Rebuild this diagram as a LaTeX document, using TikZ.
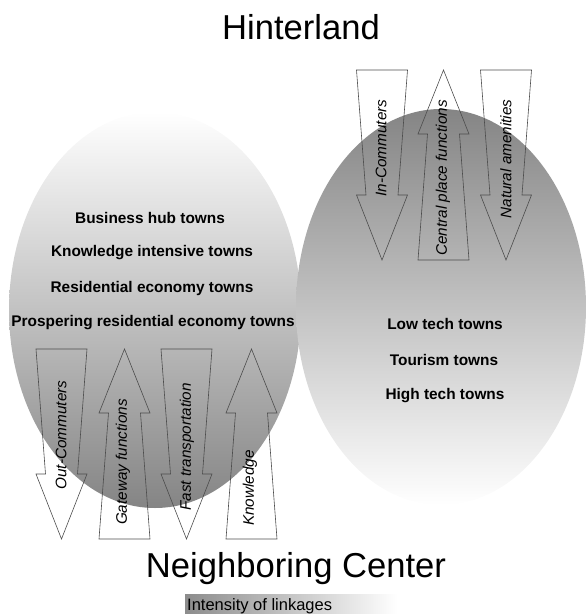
\documentclass[tikz,border=0pt]{standalone}
\usepackage{fontspec}
\setmainfont{Liberation Sans}
\begin{document}
\begin{tikzpicture}[x=1pt,y=-1pt,
  flowarrow/.style={draw=black!70, line width=0.6pt, line join=miter},
  arrowlabel/.style={rotate=90, font=\fontsize{15.3}{18}\selectfont\itshape, inner sep=0pt},
  townlabel/.style={font=\fontsize{15.4}{18}\selectfont\bfseries, inner sep=0pt},
  titlelabel/.style={font=\fontsize{34.6}{40}\selectfont, inner sep=0pt}]
\useasboundingbox (0,0) rectangle (586,615);
\newcommand\flowdown[2]{%
  \draw[flowarrow] ({#1-25.5},#2) -- ({#1+25.5},#2) -- ({#1+16},{#2+125}) -- ({#1+25.5},{#2+125})
    -- (#1,{#2+190}) -- ({#1-25.5},{#2+125}) -- ({#1-16},{#2+125}) -- cycle;}
\newcommand\flowup[2]{%
  \draw[flowarrow] (#1,#2) -- ({#1+25.5},{#2+64}) -- ({#1+16},{#2+64}) -- ({#1+25.5},{#2+190})
    -- ({#1-25.5},{#2+190}) -- ({#1-16},{#2+64}) -- ({#1-25.5},{#2+64}) -- cycle;}
% ellipses
\shade[top color=white, bottom color=black!48] (155,310) ellipse [x radius=146, y radius=198];
\shade[top color=black!48, bottom color=white] (441,307) ellipse [x radius=145, y radius=198];
% titles
\node[titlelabel] (hinter) at (301,27) {Hinterland};
\node[titlelabel] (neigh) at (296,569) {Neighboring Center};
% legend
\shade[left color=black!45, right color=white] (185,594) rectangle (397,613);
\node[anchor=base west, font=\fontsize{16.5}{19}\selectfont, inner sep=0pt] (legend) at (187,610.5) {Intensity of linkages};
% town labels left
\node[townlabel] (t1) at (150,218) {Business hub towns};
\node[townlabel] (t2) at (152,253) {Knowledge intensive towns};
\node[townlabel] (t3) at (152,289) {Residential economy towns};
\node[townlabel] (t4) at (153,323) {Prospering residential economy towns};
% town labels right
\node[townlabel] (t5) at (445,324) {Low tech towns};
\node[townlabel] (t6) at (444,360) {Tourism towns};
\node[townlabel] (t7) at (445,396) {High tech towns};
% top arrows
\flowdown{382}{70}
\flowup{443.5}{70}
\flowdown{506}{70}
% bottom arrows
\flowdown{61.5}{349}
\flowup{124.5}{349}
\flowdown{186.5}{349}
\flowup{251.5}{349}
% arrow labels
\node[arrowlabel] (a1) at (381,148) {In-Commuters};
\node[arrowlabel] (a2) at (443,178) {Central place functions};
\node[arrowlabel] (a3) at (506,159) {Natural amenities};
\node[arrowlabel] (a4) at (61,435) {Out-Commuters};
\node[arrowlabel] (a5) at (123,462) {Gateway functions};
\node[arrowlabel] (a6) at (187,447) {Fast transportation};
\node[arrowlabel] (a7) at (250,488) {Knowledge};
\end{tikzpicture}
\end{document}
